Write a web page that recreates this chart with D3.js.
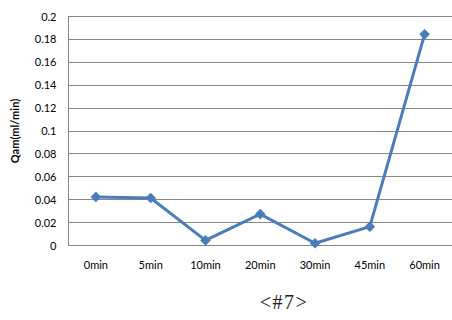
<!DOCTYPE html>
<html>
<head>
<meta charset="utf-8">
<script src="https://cdn.jsdelivr.net/npm/d3@7"></script>
<style>
  html, body { margin: 0; padding: 0; background: #fff; }
  svg { display: block; }
</style>
</head>
<body>
<svg id="chart" width="452" height="320"></svg>
<script>
// Sampling times and measured flow (Qam, ml/min)
const categories = ["0min", "5min", "10min", "20min", "30min", "45min", "60min"];
const qamValues = [0.042, 0.041, 0.004, 0.027, 0.0015, 0.016, 0.184];
const yTicks = [0, 0.02, 0.04, 0.06, 0.08, 0.1, 0.12, 0.14, 0.16, 0.18, 0.2];
const yTickLabels = ["0", "0.02", "0.04", "0.06", "0.08", "0.1", "0.12", "0.14", "0.16", "0.18", "0.2"];
const yTitle = "Qam(ml/min)";
const caption = "<#7>";

const svg = d3.select("#chart");
const plotLeft = 68.5, plotRight = 452, plotTop = 16, plotBottom = 245;

const x = d3.scaleBand().domain(categories).range([plotLeft, plotRight]);
const y = d3.scaleLinear().domain([0, 0.2]).range([plotBottom, plotTop]);

const font = "Lato, 'Open Sans', sans-serif";

// horizontal gridlines
svg.append("g")
  .selectAll("line")
  .data(yTicks)
  .join("line")
  .attr("x1", plotLeft).attr("x2", plotRight)
  .attr("y1", d => Math.round(y(d)) + 0.5)
  .attr("y2", d => Math.round(y(d)) + 0.5)
  .attr("stroke", "#878787")
  .attr("stroke-width", 1);

// left axis line
svg.append("line")
  .attr("x1", plotLeft).attr("x2", plotLeft)
  .attr("y1", plotTop).attr("y2", plotBottom + 0.5)
  .attr("stroke", "#878787");

// y tick labels
const yAxis = d3.axisLeft(y)
  .tickValues(yTicks)
  .tickFormat((d, i) => yTickLabels[i])
  .tickSize(0)
  .tickPadding(12);
const gy = svg.append("g")
  .attr("transform", `translate(${plotLeft},0.5)`)
  .call(yAxis);
gy.select(".domain").remove();
gy.selectAll("text")
  .attr("font-family", font)
  .attr("font-size", 11)
  .attr("fill", "#000");

// x category labels
const xAxis = d3.axisBottom(x).tickSize(0).tickPadding(16);
const gx = svg.append("g")
  .attr("transform", `translate(0,${plotBottom})`)
  .call(xAxis);
gx.select(".domain").remove();
gx.selectAll("text")
  .attr("font-family", font)
  .attr("font-size", 11)
  .attr("fill", "#000");

// y axis title
svg.append("text")
  .attr("transform", `translate(19,131) rotate(-90)`)
  .attr("text-anchor", "middle")
  .attr("font-family", font)
  .attr("font-weight", "bold")
  .attr("font-size", 11)
  .text(yTitle);

// data line
const pts = categories.map((c, i) => [x(c) + x.bandwidth() / 2, y(qamValues[i])]);
svg.append("path")
  .attr("d", d3.line()(pts))
  .attr("fill", "none")
  .attr("stroke", "#4a7ebb")
  .attr("stroke-width", 3)
  .attr("stroke-linejoin", "round");

// diamond markers
svg.append("g")
  .selectAll("path")
  .data(pts)
  .join("path")
  .attr("transform", d => `translate(${d[0]},${d[1]})`)
  .attr("d", d3.symbol(d3.symbolDiamond2, 72))
  .attr("fill", "#4a7ebb");

// caption
svg.append("text")
  .attr("x", 284)
  .attr("y", 309)
  .attr("text-anchor", "middle")
  .attr("font-family", "'Liberation Serif', serif")
  .attr("font-size", 20)
  .attr("letter-spacing", 1.5)
  .attr("fill", "#222")
  .text(caption);
</script>
</body>
</html>
